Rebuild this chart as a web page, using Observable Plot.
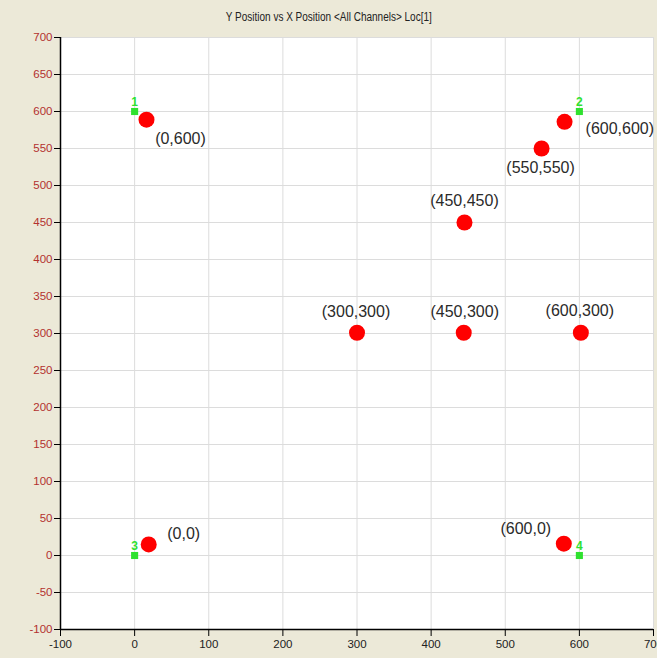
<!DOCTYPE html>
<html>
<head>
<meta charset="utf-8">
<script src="https://cdn.jsdelivr.net/npm/d3@7"></script>
<script src="https://cdn.jsdelivr.net/npm/@observablehq/plot@0.6"></script>
<style>
  html, body { margin: 0; padding: 0; background: #ECE9D8; overflow: hidden; }
  #title { height: 30px; line-height: 34px; text-align: center; font-family: "Liberation Sans Narrow", "Arial Narrow", "Liberation Sans", Arial, sans-serif; font-size: 12.5px; color: #222; }
  #title span { display: inline-block; transform: scaleX(0.8); }
  #chart svg { display: block; background: transparent; }
</style>
</head>
<body>
<div id="title"><span>Y Position vs X Position &lt;All Channels&gt; Loc[1]</span></div>
<div id="chart"></div>
<script>
// Measured points (red)
const pointX = [16, 580, 549, 445, 300, 444, 602, 19, 579];
const pointY = [589, 586, 550, 450, 301, 301, 301, 15, 16];
const pointLabel = ["(0,600)", "(600,600)", "(550,550)", "(450,450)", "(300,300)", "(450,300)", "(600,300)", "(0,0)", "(600,0)"];

// Anchors (green)
const anchorX = [0, 600, 0, 600];
const anchorY = [600, 600, 0, 0];
const anchorLabel = ["1", "2", "3", "4"];

// Axis ticks
const xTicks = [-100, 0, 100, 200, 300, 400, 500, 600, 700];
const yTicks = [-100, -50, 0, 50, 100, 150, 200, 250, 300, 350, 400, 450, 500, 550, 600, 650, 700];

// Label placement (styling only)
const labelDx = [34, 21, -1, 0, -1, 1, -1, 35, -38];
const labelDy = [19, 7, 19, -22, -21, -21, -22, -11, -15];
const labelAnchor = ["middle", "start", "middle", "middle", "middle", "middle", "middle", "middle", "middle"];

const points = pointX.map((x, i) => ({x, y: pointY[i], label: pointLabel[i]}));
const anchors = anchorX.map((x, i) => ({x, y: anchorY[i], label: anchorLabel[i]}));

const labelMarks = points.map((p, i) => Plot.text([p], {
  x: "x", y: "y", text: "label",
  dx: labelDx[i], dy: labelDy[i], textAnchor: labelAnchor[i],
  fontSize: 16, fill: "#2a2a2a",
  fontFamily: "Liberation Sans, Arial, sans-serif"
}));

const fmt = d => String(d).replace("\u2212", "-");

const plot = Plot.plot({
  width: 657,
  height: 628,
  marginTop: 7,
  marginBottom: 29,
  marginLeft: 60,
  marginRight: 4,
  style: {background: "transparent", fontFamily: "Liberation Sans Narrow, Arial Narrow, Liberation Sans, sans-serif", fontSize: "11px"},
  x: {domain: [-100, 700], ticks: xTicks, tickFormat: fmt},
  y: {domain: [-100, 700], ticks: yTicks, tickFormat: fmt},
  marks: [
    Plot.frame({fill: "white", stroke: "#aca899"}),
    Plot.gridX(xTicks, {stroke: "#dcdcdc", strokeOpacity: 1}),
    Plot.gridY(yTicks, {stroke: "#dcdcdc", strokeOpacity: 1}),
    Plot.ruleX([-100], {stroke: "black", strokeWidth: 1.5}),
    Plot.ruleY([-100], {stroke: "black", strokeWidth: 1.5}),
    Plot.axisX(xTicks, {tickSize: 7, tickPadding: 3, stroke: "black", fill: "#222", label: null, fontSize: 11.5, tickFormat: fmt}),
    Plot.axisY(yTicks, {tickSize: 6, tickPadding: 2, stroke: "black", fill: "#b3312f", label: null, fontSize: 11.5, tickFormat: fmt}),
    Plot.dot(anchors, {x: "x", y: "y", symbol: "square", r: 4, fill: "#2fe12f", stroke: "none"}),
    Plot.text(anchors, {x: "x", y: "y", text: "label", dy: -9, fill: "#2fe12f", fontWeight: "bold", fontSize: 12, fontFamily: "Liberation Sans, Arial, sans-serif"}),
    Plot.dot(points, {x: "x", y: "y", r: 8, fill: "#ff0000", stroke: "none"}),
    ...labelMarks
  ]
});
document.getElementById("chart").appendChild(plot);
</script>
</body>
</html>
